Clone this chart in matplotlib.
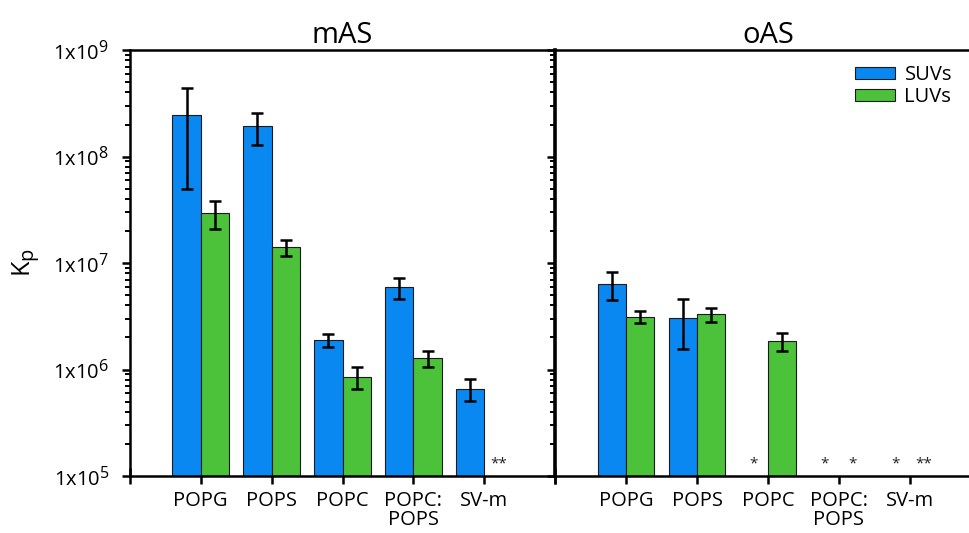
import matplotlib
matplotlib.use("Agg")
import matplotlib.pyplot as plt
import matplotlib._mathtext as _mt
import numpy as np
from matplotlib.ticker import LogLocator, FixedLocator, NullFormatter
from matplotlib.patches import Patch

_mt.SHRINK_FACTOR = 0.8

plt.rcParams['font.family'] = ['Open Sans', 'DejaVu Sans']
plt.rcParams['mathtext.fontset'] = 'custom'
plt.rcParams['mathtext.rm'] = 'Open Sans'
plt.rcParams['mathtext.it'] = 'Open Sans'

categories = ["POPG", "POPS", "POPC", "POPC:\nPOPS", "SV-m"]
panels = ["mAS", "oAS"]

# mAS
mAS_suv = [2.45e8, 1.93e8, 1.89e6, 5.95e6, 6.56e5]
mAS_suv_err = [1.95e8, 0.65e8, 0.26e6, 1.35e6, 1.5e5]
mAS_luv = [2.95e7, 1.41e7, 8.5e5, 1.28e6, np.nan]
mAS_luv_err = [0.85e7, 0.25e7, 0.2e6, 0.22e6, np.nan]
mAS_suv_mark = ["", "", "", "", ""]
mAS_luv_mark = ["", "", "", "", "**"]

# oAS
oAS_suv = [6.35e6, 3.05e6, np.nan, np.nan, np.nan]
oAS_suv_err = [1.9e6, 1.5e6, np.nan, np.nan, np.nan]
oAS_luv = [3.11e6, 3.32e6, 1.85e6, np.nan, np.nan]
oAS_luv_err = [0.4e6, 0.5e6, 0.37e6, np.nan, np.nan]
oAS_suv_mark = ["", "", "*", "*", "*"]
oAS_luv_mark = ["", "", "", "*", "**"]

data = {
    "mAS": (mAS_suv, mAS_suv_err, mAS_luv, mAS_luv_err, mAS_suv_mark, mAS_luv_mark),
    "oAS": (oAS_suv, oAS_suv_err, oAS_luv, oAS_luv_err, oAS_suv_mark, oAS_luv_mark),
}

blue = '#0A88F2'
green = '#4CC23A'

fig = plt.figure(figsize=(9.69, 5.33), dpi=100)
axL = fig.add_axes([0.134, 0.107, 0.439, 0.799])
axR = fig.add_axes([0.573, 0.107, 0.439, 0.799])

x = np.arange(1, len(categories) + 1)
w = 0.4
for ax, name in zip([axL, axR], panels):
    suv, suv_e, luv, luv_e, sm, lm = data[name]
    ax.bar(x - w / 2, suv, width=w, color=blue, edgecolor='#1a1a1a', linewidth=0.8, zorder=2)
    ax.bar(x + w / 2, luv, width=w, color=green, edgecolor='#1a1a1a', linewidth=0.8, zorder=2)
    ax.errorbar(x - w / 2, suv, yerr=suv_e, fmt='none', ecolor='black', elinewidth=1.8,
                capsize=4.5, capthick=1.8, zorder=3)
    ax.errorbar(x + w / 2, luv, yerr=luv_e, fmt='none', ecolor='black', elinewidth=1.8,
                capsize=4.5, capthick=1.8, zorder=3)
    for xi, m in zip(x - w / 2, sm):
        if m:
            ax.text(xi, 1.30e5, m, ha='center', va='center', fontsize=11, color='#222222')
    for xi, m in zip(x + w / 2, lm):
        if m:
            ax.text(xi, 1.30e5, m, ha='center', va='center', fontsize=11, color='#222222')
    ax.set_yscale('log')
    ax.set_ylim(1e5, 1e9)
    ax.set_xlim(0, 6)
    ax.set_xticks(x)
    ax.set_xticklabels(categories, fontsize=14.5, va='top', linespacing=0.95)
    ax.xaxis.set_minor_locator(FixedLocator([0, 6]))
    ax.tick_params(axis='x', which='major', direction='out', length=6, width=1.8, pad=5)
    ax.tick_params(axis='x', which='minor', direction='inout', length=12, width=1.8)
    ax.yaxis.set_major_locator(LogLocator(base=10, numticks=10))
    ax.yaxis.set_minor_locator(LogLocator(base=10, subs=np.arange(2, 10), numticks=20))
    ax.yaxis.set_minor_formatter(NullFormatter())
    ax.tick_params(axis='y', which='major', direction='out', length=6, width=1.8, pad=9)
    ax.tick_params(axis='y', which='minor', direction='out', length=3.5, width=1.4)
    for s in ax.spines.values():
        s.set_linewidth(1.8)
    ax.set_title(name, fontsize=21, pad=3)

axL.set_yticks([1e5, 1e6, 1e7, 1e8, 1e9])
axL.set_yticklabels([r'1x10$^{5}$', r'1x10$^{6}$', r'1x10$^{7}$', r'1x10$^{8}$', r'1x10$^{9}$'], fontsize=14.5)
axL.set_ylabel(r'K$_\mathrm{p}$', fontsize=18, labelpad=8)
axR.set_yticks([1e5, 1e6, 1e7, 1e8, 1e9])
axR.set_yticklabels([])
axR.spines['right'].set_visible(False)
axR.spines['left'].set_linewidth(2.6)

handles = [Patch(facecolor=blue, edgecolor='#1a1a1a', linewidth=0.8, label='SUVs'),
           Patch(facecolor=green, edgecolor='#1a1a1a', linewidth=0.8, label='LUVs')]
axR.legend(handles=handles, loc='upper left', bbox_to_anchor=(0.705, 0.965), frameon=False,
           fontsize=14.5, handlelength=2.0, handleheight=0.5, handletextpad=0.45, labelspacing=0.1,
           borderaxespad=0.0, borderpad=0.0)

fig.savefig('out.png', dpi=100)
